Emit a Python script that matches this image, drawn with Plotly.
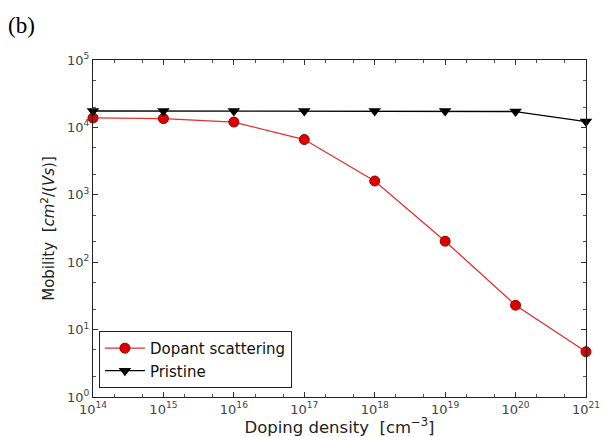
import plotly.graph_objects as go

# Doping density (cm^-3) and mobility (cm^2/Vs)
doping = [1e14, 1e15, 1e16, 1e17, 1e18, 1e19, 1e20, 1e21]
mobility_dopant = [1.38e4, 1.35e4, 1.2e4, 6.6e3, 1.6e3, 2.05e2, 23, 4.7]
mobility_pristine = [1.75e4, 1.75e4, 1.75e4, 1.75e4, 1.75e4, 1.75e4, 1.72e4, 1.22e4]

x_exponents = [14, 15, 16, 17, 18, 19, 20, 21]
y_exponents = [0, 1, 2, 3, 4, 5]

fig = go.Figure()
fig.add_trace(go.Scatter(
    x=doping, y=mobility_dopant, mode="lines+markers", name="Dopant scattering",
    line=dict(color="#e03030", width=1.3),
    marker=dict(symbol="circle", size=10, color="#dd0000", line=dict(color="#990000", width=1)),
    cliponaxis=False,
))
fig.add_trace(go.Scatter(
    x=doping, y=mobility_pristine, mode="lines+markers", name="Pristine",
    line=dict(color="#000000", width=1.3),
    marker=dict(symbol="triangle-down", size=11, color="#000000"),
    cliponaxis=False,
))

tick_font = dict(family="DejaVu Sans", size=13, color="#444444")
axis_common = dict(
    type="log", showgrid=False, zeroline=False, automargin=False,
    showline=True, linecolor="#222222", linewidth=1.2, mirror="allticks",
    ticks="inside", ticklen=5, tickcolor="#333333",
    minor=dict(ticks="inside", ticklen=3, tickcolor="#555555", showgrid=False),
    tickfont=tick_font,
)

fig.update_layout(
    width=606, height=437,
    margin=dict(l=93, r=20, t=60, b=40),
    paper_bgcolor="white", plot_bgcolor="white",
    xaxis=dict(
        **axis_common,
        range=[14, 21],
        tickvals=doping,
        ticktext=[f"10<sup>{e}</sup>" for e in x_exponents],
        title=dict(text="Doping density  [cm<sup>−3</sup>]",
                   font=dict(family="DejaVu Sans", size=16.5, color="#222222"), standoff=2),
    ),
    yaxis=dict(
        **axis_common,
        range=[0, 5],
        tickvals=[10 ** e for e in y_exponents],
        ticktext=[f"10<sup>{e}</sup>" for e in y_exponents],
        title=dict(text="Mobility  [<i>cm</i><sup>2</sup>/(<i>Vs</i>)]",
                   font=dict(family="DejaVu Sans", size=15, color="#222222"), standoff=8),
    ),
    legend=dict(
        x=0.012, y=0.027, xanchor="left", yanchor="bottom",
        bgcolor="white", bordercolor="#222222", borderwidth=1,
        font=dict(family="DejaVu Sans", size=15, color="#111111"),
        tracegroupgap=0, itemwidth=40,
    ),
    showlegend=True,
    annotations=[dict(
        text="(b)", x=0, y=1, xref="paper", yref="paper",
        xshift=-93 + 6, yshift=60 - 11, xanchor="left", yanchor="top",
        showarrow=False, font=dict(family="Liberation Serif", size=23, color="#000000"),
    )],
)

fig.write_html("out.html")
